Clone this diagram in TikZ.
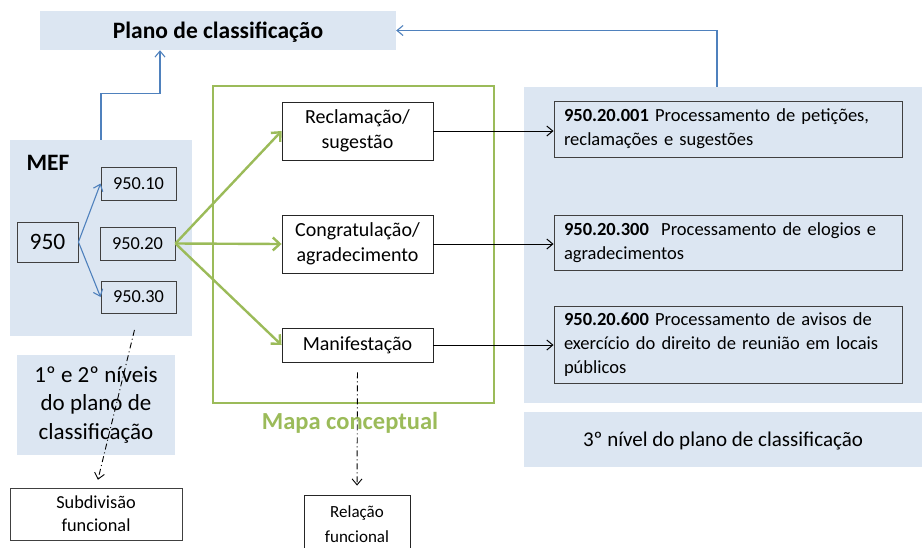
\documentclass[tikz,border=0pt]{standalone}
\usepackage{fontspec}
\setmainfont{Carlito}
\usetikzlibrary{arrows.meta}
\definecolor{panelblue}{HTML}{DCE6F2}
\definecolor{linkblue}{HTML}{4F81BD}
\definecolor{mapgreen}{HTML}{9BBB59}

\begin{document}
\begin{tikzpicture}[x=1pt,y=-1pt,>={Straight Barb[length=6pt,width=10pt]},
  panel/.style={fill=panelblue,inner sep=0pt},
  codebox/.style={draw=black!75,line width=0.9pt,inner sep=0pt,align=center,font=\fontsize{18.3}{23}\selectfont},
  conbox/.style={draw=black!85,line width=0.9pt,fill=white,inner sep=0pt,align=center,font=\fontsize{20}{25}\selectfont},
  classbox/.style={draw=black!75,line width=0.9pt,text width=328pt,inner xsep=10pt,inner ysep=0pt,align=left,font=\fontsize{18.5}{24}\selectfont},
  bluearr/.style={->,draw=linkblue,line width=1.1pt},
  greenarr/.style={-{Straight Barb[length=7pt,width=13pt]},draw=mapgreen,line width=2.4pt},
  blackarr/.style={->,draw=black,line width=1pt},
  linkarr/.style={->,draw=black,line width=0.9pt,dash pattern=on 6pt off 3pt on 1pt off 3pt}]
  \useasboundingbox (0,0) rectangle (922,547);

  % panels
  \node[panel,minimum width=356pt,minimum height=39pt,text depth=0pt,font=\fontsize{23.5}{28}\selectfont\bfseries] (plano) at (218,30.5) {Plano de classificação};
  \node[panel,minimum width=182pt,minimum height=196pt] (mef) at (101,238) {};
  \node[panel,minimum width=158pt,minimum height=100pt,align=center,font=\fontsize{23}{28.5}\selectfont] (niveis) at (96,405) {1º e 2º níveis\\do plano de\\classificação};
  \node[panel,minimum width=398pt,minimum height=316pt] (terceiro) at (723,245) {};
  \node[panel,minimum width=398pt,minimum height=55pt,text depth=0pt,font=\fontsize{21}{25}\selectfont] (nivel3) at (723,439.5) {3º nível do plano de classificação};
  \node[draw=mapgreen,line width=2.8pt,minimum width=281pt,minimum height=317pt] (mapa) at (353.5,244.5) {};
  \node[text=mapgreen,font=\fontsize{24.5}{29}\selectfont\bfseries] (mapalabel) at (350,423) {Mapa conceptual};

  % first and second level
  \node[font=\fontsize{23.5}{28}\selectfont\bfseries] (meflabel) at (48,163) {MEF};
  \node[codebox,minimum width=61pt,minimum height=40pt,font=\fontsize{23.5}{28}\selectfont] (c950) at (47.5,242) {950};
  \node[codebox,minimum width=75pt,minimum height=33pt] (c95010) at (138.5,183.5) {950.10};
  \node[codebox,minimum width=75pt,minimum height=33pt] (c95020) at (137.5,243.5) {950.20};
  \node[codebox,minimum width=75pt,minimum height=32pt] (c95030) at (138.5,297) {950.30};
  \node[codebox,minimum width=172pt,minimum height=52pt] (subdiv) at (96,514) {Subdivisão\\funcional};

  % concepts
  \node[conbox,minimum width=151pt,minimum height=58pt] (recl) at (357.5,131) {Reclamação/\\sugestão};
  \node[conbox,minimum width=151pt,minimum height=58pt] (congr) at (357.5,244) {Congratulação/\\agradecimento};
  \node[conbox,minimum width=151pt,minimum height=34pt] (manif) at (357.5,345) {Manifestação};
  \node[conbox,minimum width=106pt,minimum height=58pt,font=\fontsize{17}{25}\selectfont] (relacao) at (357,524) {Relação\\funcional};

  % third level
  \node[classbox,minimum height=56pt] (c001) at (728,129) {\textbf{950.20.001} Processamento de petições,\\reclamações e sugestões};
  \node[classbox,minimum height=55pt] (c300) at (728,242.5) {\textbf{950.20.300}\ \ Processamento de elogios e\\agradecimentos};
  \node[classbox,minimum height=77pt] (c600) at (728,344.5) {\textbf{950.20.600} Processamento de avisos de\\exercício do direito de reunião em locais\\públicos};

  \draw[bluearr] (c950.east) -- (c95010.west);
  \draw[bluearr] (c950.east) -- (c95030.west);
  \draw[bluearr] (mef.north) -- ++(0,-46) -| ([xshift=-58pt]plano.south);
  \draw[bluearr] ([xshift=-6pt]terceiro.north) |- (plano.east);

  \draw[greenarr] (c95020.east) -- (recl.west);
  \draw[greenarr] (c95020.east) -- (congr.west);
  \draw[greenarr] (c95020.east) -- (manif.west);

  \draw[blackarr] (recl.east) -- (recl.east -| c001.west);
  \draw[blackarr] (congr.east) -- (congr.east -| c300.west);
  \draw[blackarr] (manif.east) -- (manif.east -| c600.west);

  \draw[linkarr,shorten <=17pt,shorten >=8pt] (c95030.south) -- (subdiv.north);
  \draw[linkarr,shorten <=10pt,shorten >=9pt] (manif.south) -- (relacao.north);
\end{tikzpicture}
\end{document}
